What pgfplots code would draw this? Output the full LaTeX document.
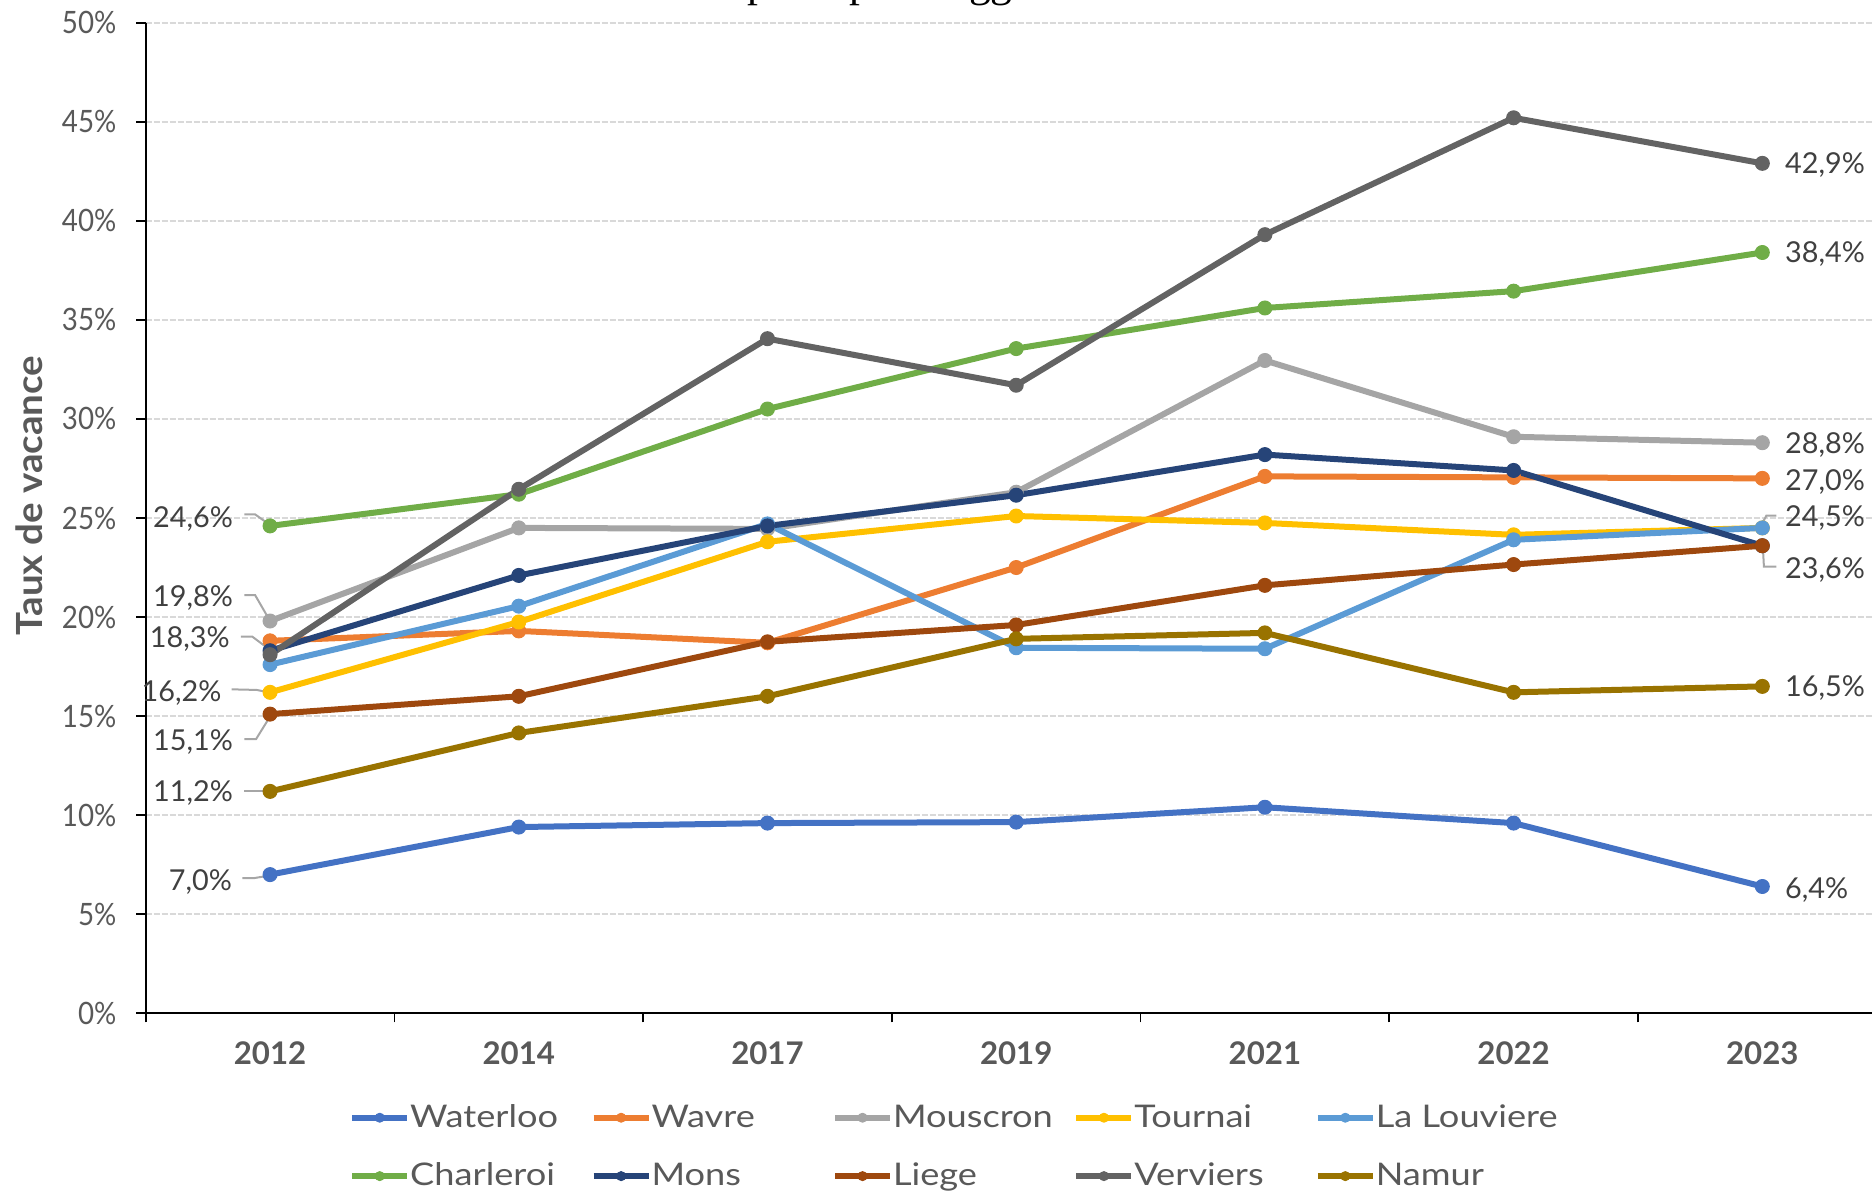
\documentclass[border=0pt]{standalone}
\usepackage{pgfplots}
\pgfplotsset{compat=1.18}
\usepackage{fontspec}
\setmainfont{Lato}
\newfontfamily\legfont[FakeStretch=1.16]{Lato}
\newfontfamily\ylfont[FakeStretch=1.07]{Lato}
\newfontfamily\tickfont[FakeStretch=0.9]{Lato}
\newfontfamily\titlefont{Liberation Serif}
\usetikzlibrary{calc}

% Office palette
\definecolor{cWaterloo}{HTML}{4472C4}
\definecolor{cWavre}{HTML}{ED7D31}
\definecolor{cMouscron}{HTML}{A5A5A5}
\definecolor{cTournai}{HTML}{FFC000}
\definecolor{cLouviere}{HTML}{5B9BD5}
\definecolor{cCharleroi}{HTML}{70AD47}
\definecolor{cMons}{HTML}{264478}
\definecolor{cLiege}{HTML}{9E480E}
\definecolor{cVerviers}{HTML}{636363}
\definecolor{cNamur}{HTML}{997300}
\definecolor{txtgray}{HTML}{595959}
\definecolor{lblgray}{HTML}{404040}
\definecolor{gridgray}{HTML}{D9D9D9}
\definecolor{leadgray}{HTML}{A6A6A6}

\newcommand\leg[1]{\makebox[90.2pt][l]{#1}}

\tikzset{
  lab/.style={font=\fontsize{14.4}{17}\selectfont, text=lblgray, inner sep=0pt,
              text height=10.3pt, text depth=0pt},
  leader/.style={leadgray, line width=1pt},
}

\begin{document}
\begin{tikzpicture}
\begin{axis}[
  scale only axis, width=863.15pt, height=495.3pt,
  xmin=-0.5, xmax=6.441, ymin=0, ymax=50,
  clip=false,
  axis lines*=left,
  axis line style={black, line width=0.85pt},
  tick style={black, line width=0.85pt},
  tick align=outside,
  major tick length=4.6pt,
  xtick={-0.5,0.5,...,5.5}, xticklabels={},
  extra x ticks={0,1,2,3,4,5,6},
  extra x tick labels={2012,2014,2017,2019,2021,2022,2023},
  extra x tick style={major tick length=0pt},
  xticklabel style={font=\fontsize{15.6}{18}\selectfont\bfseries, text=txtgray,
                    inner sep=0pt, anchor=north, yshift=-13.85pt},
  ytick={0,5,...,50},
  yticklabels={0\%,5\%,10\%,15\%,20\%,25\%,30\%,35\%,40\%,45\%,50\%},
  yticklabel style={font=\tickfont\fontsize{15.4}{18}\selectfont, text=txtgray,
                    inner sep=0pt, anchor=east, xshift=-9.9pt},
  ymajorgrids,
  grid style={gridgray, line width=1.1pt, dash pattern=on 3pt off 1pt},
  ylabel={Taux de vacance},
  ylabel style={at={(rel axis cs:-0.0672,0.5227)}, anchor=center,
                font=\ylfont\bfseries\fontsize{18}{21}\selectfont, text=txtgray},
  every axis plot/.append style={line width=3pt, line join=round, mark=*,
                                 mark size=3.5pt, mark options={solid, line width=0.5pt}},
  legend columns=5,
  legend cell align=left,
  legend style={at={(0.1179,-0.1349)}, anchor=west, draw=none, fill=none,
                inner sep=0pt, outer sep=0pt, column sep=0pt, row sep=15.7pt,
                nodes={inner sep=0pt, text height=11.5pt, text depth=2pt, text=txtgray},
                font=\legfont\fontsize{15.6}{18}\selectfont},
  legend image code/.code={
    \draw[#1, mark=none] (0pt,0pt) -- (27.5pt,0pt);
    \draw[#1, mark size=2.25pt] plot coordinates {(13.75pt,0pt)};
  },
]

% leader lines of the data labels
\draw[leader] ($(axis cs:0,24.6)+(-12.8pt,5.8pt)$) -- ++(5.3pt,0pt) -- ($(axis cs:0,24.6)+(-0.8pt,1pt)$);
\draw[leader] ($(axis cs:0,19.8)+(-12.8pt,13pt)$) -- ++(5.3pt,0pt) -- ($(axis cs:0,19.8)+(-0.8pt,1.4pt)$);
\draw[leader] ($(axis cs:0,18.3)+(-14.6pt,7pt)$) -- ++(5.8pt,0pt) -- ($(axis cs:0,18.3)+(0pt,0.4pt)$);
\draw[leader] ($(axis cs:0,16.2)+(-19.2pt,1.5pt)$) -- ($(axis cs:0,16.2)+(-6.7pt,1.2pt)$) -- ($(axis cs:0,16.2)+(-0.8pt,0pt)$);
\draw[leader] ($(axis cs:0,15.1)+(-12.8pt,-12.5pt)$) -- ++(5.8pt,0pt) -- ($(axis cs:0,15.1)+(0pt,-1.2pt)$);
\draw[leader] ($(axis cs:0,11.2)+(-12.8pt,0pt)$) -- ($(axis cs:0,11.2)+(-1.7pt,0pt)$);
\draw[leader] ($(axis cs:0,7.0)+(-13.8pt,-1.8pt)$) -- ++(5.5pt,0pt) -- ($(axis cs:0,7.0)+(-1.7pt,-0.7pt)$);
\draw[leader] ($(axis cs:6,24.5)+(0pt,2.3pt)$) -- ($(axis cs:6,24.5)+(2pt,6.1pt)$) -- ++(5pt,0pt);
\draw[leader] ($(axis cs:6,23.6)+(0.3pt,-1.2pt)$) -- ($(axis cs:6,23.6)+(0.8pt,-10.5pt)$) -- ++(6.2pt,0pt);

\addplot[color=cWaterloo] coordinates {(0,7.0) (1,9.4) (2,9.6) (3,9.65) (4,10.4) (5,9.6) (6,6.4)};
\addlegendentry{\leg{Waterloo}}
\addplot[color=cWavre] coordinates {(0,18.8) (1,19.3) (2,18.7) (3,22.5) (4,27.1) (5,27.05) (6,27.0)};
\addlegendentry{\leg{Wavre}}
\addplot[color=cMouscron] coordinates {(0,19.8) (1,24.5) (2,24.45) (3,26.3) (4,32.95) (5,29.1) (6,28.8)};
\addlegendentry{\leg{Mouscron}}
\addplot[color=cTournai] coordinates {(0,16.2) (1,19.75) (2,23.8) (3,25.1) (4,24.75) (5,24.15) (6,24.5)};
\addlegendentry{\leg{Tournai}}
\addplot[color=cLouviere] coordinates {(0,17.6) (1,20.55) (2,24.7) (3,18.45) (4,18.4) (5,23.9) (6,24.5)};
\addlegendentry{\leg{La Louviere}}
\addplot[color=cCharleroi] coordinates {(0,24.6) (1,26.2) (2,30.5) (3,33.55) (4,35.6) (5,36.45) (6,38.4)};
\addlegendentry{\leg{Charleroi}}
\addplot[color=cMons] coordinates {(0,18.3) (1,22.1) (2,24.6) (3,26.15) (4,28.2) (5,27.4) (6,23.6)};
\addlegendentry{\leg{Mons}}
\addplot[color=cLiege] coordinates {(0,15.1) (1,16.0) (2,18.75) (3,19.6) (4,21.6) (5,22.65) (6,23.6)};
\addlegendentry{\leg{Liege}}
\addplot[color=cVerviers] coordinates {(0,18.1) (1,26.45) (2,34.05) (3,31.7) (4,39.3) (5,45.2) (6,42.9)};
\addlegendentry{\leg{Verviers}}
\addplot[color=cNamur] coordinates {(0,11.2) (1,14.15) (2,16.0) (3,18.9) (4,19.2) (5,16.2) (6,16.5)};
\addlegendentry{\leg{Namur}}

% data labels, first year
\node[lab, anchor=east, xshift=-18.35pt, yshift=4.35pt] at (axis cs:0,24.6) {24,6\%};
\node[lab, anchor=east, xshift=-18.35pt, yshift=12.2pt] at (axis cs:0,19.8) {19,8\%};
\node[lab, anchor=east, xshift=-20pt, yshift=6.65pt] at (axis cs:0,18.3) {18,3\%};
\node[lab, anchor=east, xshift=-24.15pt, yshift=0.5pt] at (axis cs:0,16.2) {16,2\%};
\node[lab, anchor=east, xshift=-18.35pt, yshift=-13.05pt] at (axis cs:0,15.1) {15,1\%};
\node[lab, anchor=east, xshift=-18.35pt] at (axis cs:0,11.2) {11,2\%};
\node[lab, anchor=east, xshift=-18.85pt, yshift=-2.55pt] at (axis cs:0,7.0) {7,0\%};
% data labels, last year
\node[lab, anchor=west, xshift=11.2pt] at (axis cs:6,42.9) {42,9\%};
\node[lab, anchor=west, xshift=11.2pt] at (axis cs:6,38.4) {38,4\%};
\node[lab, anchor=west, xshift=11.2pt] at (axis cs:6,28.8) {28,8\%};
\node[lab, anchor=west, xshift=11.2pt, yshift=-0.8pt] at (axis cs:6,27.0) {27,0\%};
\node[lab, anchor=west, xshift=11.2pt, yshift=5.6pt] at (axis cs:6,24.5) {24,5\%};
\node[lab, anchor=west, xshift=11.2pt, yshift=-11.25pt] at (axis cs:6,23.6) {23,6\%};
\node[lab, anchor=west, xshift=11.2pt] at (axis cs:6,16.5) {16,5\%};
\node[lab, anchor=west, xshift=11.2pt, yshift=-0.9pt] at (axis cs:6,6.4) {6,4\%};
\end{axis}

% chart title, set above the frame
\node[anchor=base west, inner sep=0pt, font=\titlefont\fontsize{21.8}{26}\selectfont]
  at ($(current axis.north west)+(300.65pt,13.1pt)$)
  {\llap{Taux de vacance des }principales agglomérations wallonnes};

\pgfresetboundingbox
\useasboundingbox ($(current axis.south west)+(-72.85pt,-90.85pt)$)
  rectangle ($(current axis.north east)+(0pt,11.35pt)$);
\end{tikzpicture}
\end{document}
